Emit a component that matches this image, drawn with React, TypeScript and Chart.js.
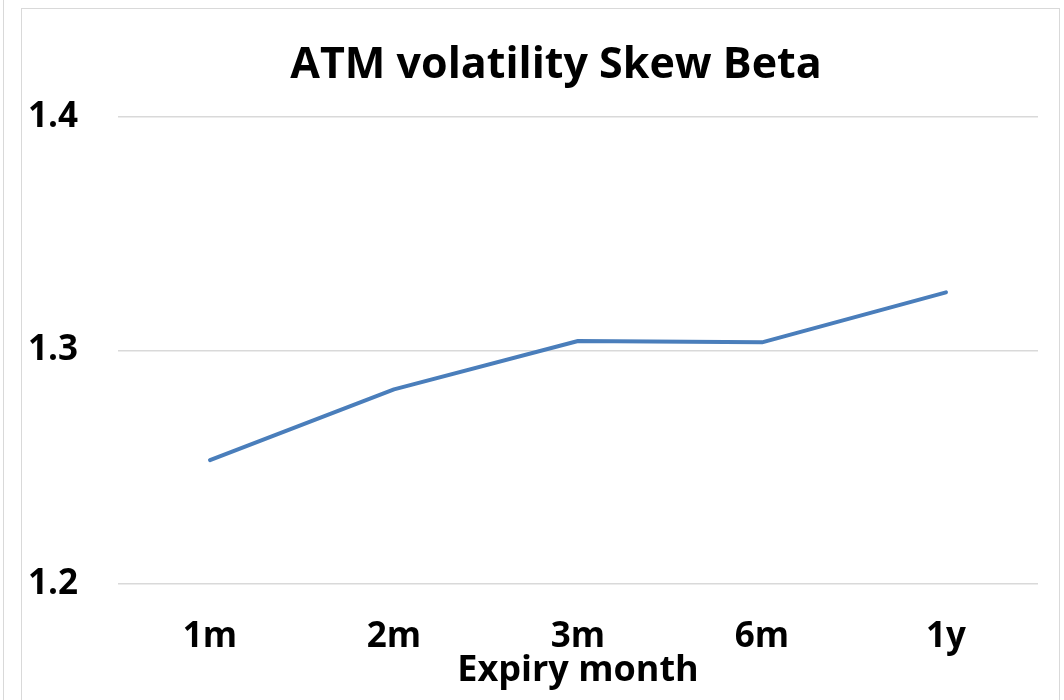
import React, { useEffect, useRef } from "react";
import { Chart, registerables } from "chart.js";

Chart.register(...registerables);

const categories = ["1m", "2m", "3m", "6m", "1y"];
const skewBeta = [1.253, 1.2833, 1.304, 1.3034, 1.3248];
const yTicks = [1.2, 1.3, 1.4];
const titleText = "ATM volatility Skew Beta";
const xAxisTitle = "Expiry month";

const FONT = "'Open Sans', Lato, sans-serif";

const shiftTitle = {
  id: "shiftTitle",
  afterLayout(chart: any) {
    if (chart.titleBlock) {
      chart.titleBlock.left += 48;
    }
  },
};

export default function App() {
  const ref = useRef<HTMLCanvasElement | null>(null);

  useEffect(() => {
    if (!ref.current) return;
    const chart = new Chart(ref.current, {
      type: "line",
      data: {
        labels: categories,
        datasets: [
          {
            data: skewBeta,
            borderColor: "#4a7ebb",
            borderWidth: 4,
            pointRadius: 0,
            tension: 0,
            borderCapStyle: "round",
            borderJoinStyle: "round",
          },
        ],
      },
      plugins: [shiftTitle],
      options: {
        animation: false,
        responsive: false,
        layout: { padding: { left: 26, right: 26, top: 0, bottom: 0 } },
        plugins: {
          legend: { display: false },
          tooltip: { enabled: false },
          title: {
            display: true,
            text: titleText,
            color: "#000",
            font: { family: FONT, size: 43, weight: "bold" },
            padding: { top: 40, bottom: 25 },
          },
        },
        scales: {
          x: {
            offset: true,
            grid: { display: false, drawTicks: false },
            border: { display: false },
            ticks: {
              color: "#000",
              padding: 32,
              font: { family: FONT, size: 35, weight: "bold" },
            },
            title: {
              display: true,
              text: xAxisTitle,
              color: "#000",
              font: { family: FONT, size: 36, weight: "bold" },
              padding: { top: 0, bottom: 8 },
            },
            afterFit: (s: any) => {
              s.height = 116;
            },
          },
          y: {
            min: yTicks[0],
            max: yTicks[yTicks.length - 1],
            grid: { color: "#d9d9d9", lineWidth: 1.5, drawTicks: false },
            border: { display: false },
            afterBuildTicks: (s: any) => {
              s.ticks = yTicks.map((v) => ({ value: v }));
            },
            ticks: {
              color: "#000",
              padding: 40,
              font: { family: FONT, size: 35, weight: "bold" },
              callback: (v: any) => Number(v).toFixed(1),
            },
            afterFit: (s: any) => {
              s.width = 92;
            },
          },
        },
      },
    });
    return () => chart.destroy();
  }, []);

  return (
    <div
      style={{
        position: "fixed",
        left: 0,
        top: 0,
        width: 1064,
        height: 700,
        background: "#fff",
        overflow: "hidden",
      }}
    >
      <div
        style={{
          position: "absolute",
          left: 3,
          top: 0,
          width: 0,
          height: 700,
          borderLeft: "1px solid #d9d9d9",
        }}
      />
      <div
        style={{
          position: "absolute",
          left: 21,
          top: 8,
          width: 1037,
          height: 720,
          border: "1px solid #d9d9d9",
        }}
      />
      <canvas
        ref={ref}
        width={1064}
        height={700}
        style={{ position: "absolute", left: 0, top: 0 }}
      />
    </div>
  );
}
